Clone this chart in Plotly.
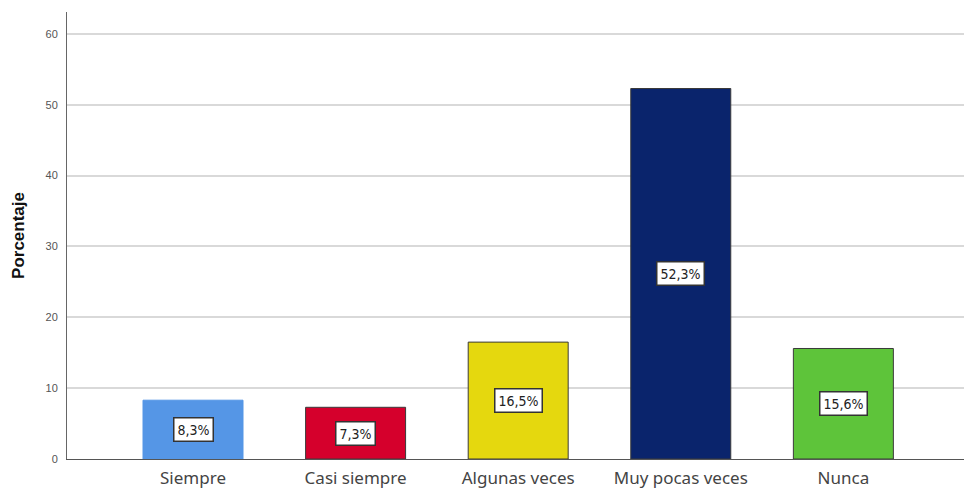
import plotly.graph_objects as go

categories = ["Siempre", "Casi siempre", "Algunas veces", "Muy pocas veces", "Nunca"]
percentages = [8.3, 7.3, 16.5, 52.3, 15.6]
bar_colors = ["#5596E6", "#D5002C", "#E5D80E", "#0A246C", "#5EC43A"]
edge_colors = ["#5596E6", "#3a3a3a", "#3a3a3a", "#3a3a3a", "#3a3a3a"]
y_ticks = [0, 10, 20, 30, 40, 50, 60]

positions = list(range(len(categories)))

fig = go.Figure(
    go.Bar(
        x=positions,
        y=percentages,
        width=0.615,
        marker=dict(color=bar_colors, line=dict(color=edge_colors, width=1)),
        hoverinfo="skip",
    )
)

# value boxes centred in each bar
for pos, val in zip(positions, percentages):
    fig.add_annotation(
        x=pos, y=val / 2,
        text=f"{val:.1f}%".replace(".", ","),
        showarrow=False,
        font=dict(family="DejaVu Sans Condensed, DejaVu Sans, sans-serif", size=14, color="#222"),
        bgcolor="white",
        bordercolor="#333",
        borderwidth=1.5,
        borderpad=3,
    )

fig.update_layout(
    width=964,
    height=488,
    margin=dict(l=67, r=0, t=12, b=29),
    plot_bgcolor="white",
    paper_bgcolor="white",
    showlegend=False,
    font=dict(family="Liberation Sans, Arial, sans-serif"),
    xaxis=dict(
        range=[-0.775, 4.742],
        tickmode="array",
        tickvals=positions,
        ticktext=categories,
        tickfont=dict(family="Noto Sans, sans-serif", size=17, color="#444"),
        showgrid=False,
        showline=True,
        linecolor="#555",
        linewidth=1,
        ticks="",
        ticklabelstandoff=4,
        zeroline=False,
    ),
    yaxis=dict(
        range=[0, 63.1],
        tickmode="array",
        tickvals=y_ticks,
        tickfont=dict(size=11, color="#555"),
        showgrid=True,
        gridcolor="#d9d9d9",
        gridwidth=2,
        showline=True,
        linecolor="#666",
        linewidth=1,
        ticks="",
        ticklabelstandoff=6,
        zeroline=False,
        title=dict(text="<b>Porcentaje</b>", font=dict(size=17, color="#111"), standoff=16),
    ),
)

fig.write_html("out.html")
